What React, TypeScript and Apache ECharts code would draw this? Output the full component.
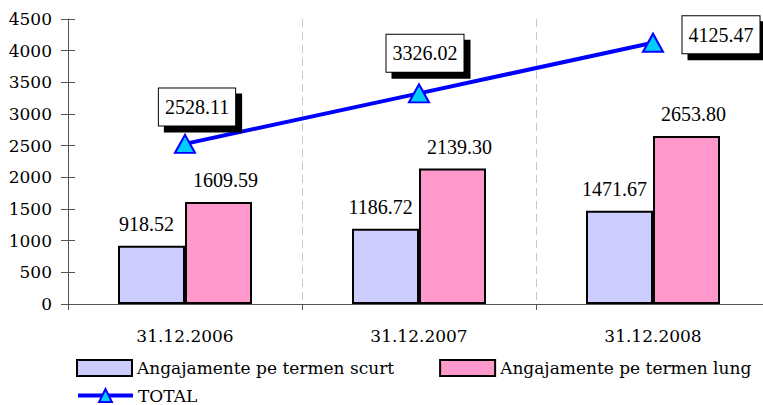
import React, { useEffect, useRef } from "react";
import * as echarts from "echarts";

const categories = ["31.12.2006", "31.12.2007", "31.12.2008"];
const shortTerm = [918.52, 1186.72, 1471.67];
const longTerm = [1609.59, 2139.3, 2653.8];
const total = [2528.11, 3326.02, 4125.47];
const seriesNames = ["Angajamente pe termen scurt", "Angajamente pe termen lung", "TOTAL"];

const FONT = "Liberation Serif";
const ALT = "DejaVu Serif";
const totalLabelOffsets = [
  [12, -37],
  [6, -40],
  [68, -8],
];

export default function App() {
  const ref = useRef<HTMLDivElement>(null);
  useEffect(() => {
    if (!ref.current) return;
    const chart = echarts.init(ref.current, undefined, { renderer: "svg" });
    const barLabel = (off: number[]) => ({
      show: true,
      position: "top" as const,
      distance: 12,
      offset: off,
      color: "#000",
      fontFamily: FONT,
      fontSize: 20,
      formatter: (p: any) => Number(p.value).toFixed(2),
    });
    chart.setOption({
      animation: false,
      backgroundColor: "#fff",
      grid: { left: 68, top: 19, width: 702, height: 285, outerBoundsMode: "none", containLabel: false },
      legend: [
        {
          data: [seriesNames[0], seriesNames[1]],
          left: 76,
          top: 359,
          padding: 0,
          itemWidth: 55,
          itemHeight: 16,
          itemGap: 45,
          icon: "rect",
          textStyle: { fontFamily: ALT, fontSize: 17, color: "#000" },
        },
        {
          data: [seriesNames[2]],
          left: 76,
          top: 387,
          padding: 0,
          itemWidth: 55,
          itemHeight: 16,
          lineStyle: { width: 4, color: "#0000FF" },
          textStyle: { fontFamily: ALT, fontSize: 17, color: "#000" },
        },
      ],
      xAxis: {
        type: "category",
        data: categories,
        boundaryGap: true,
        axisLine: { lineStyle: { color: "#555", width: 1 } },
        axisTick: { show: true, length: 6, lineStyle: { color: "#555" } },
        axisLabel: { color: "#000", fontFamily: ALT, fontSize: 17, margin: 23 },
        splitLine: { show: true, lineStyle: { color: "#c8c8c8", type: [8, 5], width: 1 } },
      },
      yAxis: [
        {
          type: "value",
          min: 0,
          max: 4500,
          interval: 500,
          axisLine: { show: true, lineStyle: { color: "#555", width: 1 } },
          axisTick: { show: true, length: 7, lineStyle: { color: "#555" } },
          axisLabel: {
            color: "#000",
            fontFamily: ALT,
            fontSize: 17,
            margin: 16,
            formatter: (v: number) => String(v),
          },
          splitLine: { show: false },
        },
        {
          type: "value",
          position: "left",
          min: 0,
          max: 4500,
          interval: 500,
          axisLine: { show: false },
          axisTick: { show: true, inside: true, length: 7, lineStyle: { color: "#555" } },
          axisLabel: { show: false },
          splitLine: { show: false },
        },
      ],
      series: [
        {
          name: seriesNames[0],
          type: "bar",
          data: shortTerm,
          barWidth: 67,
          barGap: "0%",
          itemStyle: { color: "#CCCCFF", borderColor: "#000", borderWidth: 2 },
          label: barLabel([-5, 0]),
        },
        {
          name: seriesNames[1],
          type: "bar",
          data: longTerm,
          barWidth: 67,
          barGap: "0%",
          itemStyle: { color: "#FF99CC", borderColor: "#000", borderWidth: 2 },
          label: barLabel([7, 0]),
        },
        {
          name: seriesNames[2],
          type: "line",
          data: total.map((v, i) => ({
            value: v,
            label: { offset: totalLabelOffsets[i] },
          })),
          symbol: "triangle",
          symbolSize: [20, 18],
          lineStyle: { color: "#0000FF", width: 4 },
          itemStyle: { color: "#00CCFF", borderColor: "#0000FF", borderWidth: 2 },
          z: 5,
          label: {
            show: true,
            position: "inside",
            color: "#000",
            fontFamily: FONT,
            fontSize: 20,
            lineHeight: 22,
            backgroundColor: "#fff",
            borderColor: "#000",
            borderWidth: 1,
            padding: [8, 6, 7, 6],
            shadowColor: "#000",
            shadowBlur: 0,
            shadowOffsetX: 6,
            shadowOffsetY: 6,
            formatter: (p: any) => Number(p.value).toFixed(2),
          },
        },
      ],
    });
    return () => chart.dispose();
  }, []);
  return (
    <div
      ref={ref}
      style={{ position: "absolute", left: 0, top: 0, width: 763, height: 405 }}
    />
  );
}
